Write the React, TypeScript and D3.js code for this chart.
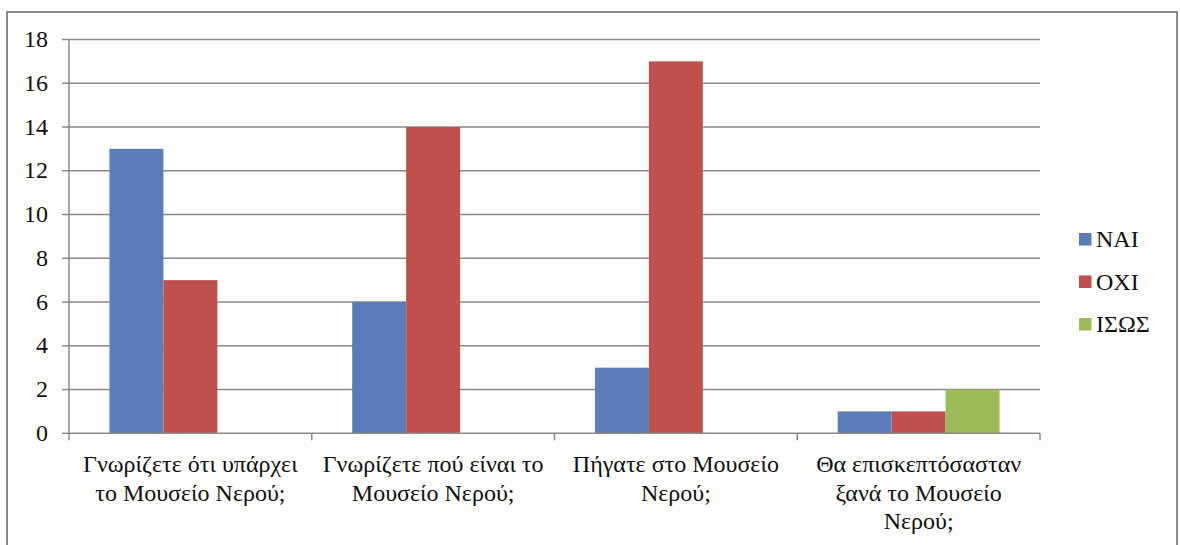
import React from "react";
import * as d3 from "d3";

const categories: string[][] = [
  ["Γνωρίζετε ότι υπάρχει", "το Μουσείο Νερού;"],
  ["Γνωρίζετε πού είναι το", "Μουσείο Νερού;"],
  ["Πήγατε στο Μουσείο", "Νερού;"],
  ["Θα επισκεπτόσασταν", "ξανά το Μουσείο", "Νερού;"],
];
const seriesNames = ["ΝΑΙ", "ΟΧΙ", "ΙΣΩΣ"];
const seriesColors = ["#5A7CB8", "#C0504D", "#9BBB59"];
const naiValues = [13, 6, 3, 1];
const oxiValues = [7, 14, 17, 1];
const isosValues = [0, 0, 0, 2];
const yTicks = [0, 2, 4, 6, 8, 10, 12, 14, 16, 18];

const series = [naiValues, oxiValues, isosValues];

export default function App() {
  const W = 1180;
  const H = 545;
  const left = 69;
  const right = 1040;
  const top = 39.5;
  const bottom = 433.3;
  const fam = "Liberation Serif";
  const ts = { fontFamily: `"${fam}"`, fontSize: "24px" };

  const x = d3.scaleBand<number>().domain(d3.range(categories.length)).range([left, right]).paddingInner(0).paddingOuter(0);
  const y = d3.scaleLinear().domain([0, 18]).range([bottom, top]);
  const bw = x.bandwidth();
  const inner = d3.scaleBand<number>().domain(d3.range(seriesNames.length)).range([0, bw]).paddingInner(0).paddingOuter(0.75);
  const gray = "#8c8a86";

  return (
    <svg width={W} height={H} style={{ position: "absolute", left: 0, top: 0 }} fontFamily={fam}>
      <rect x={0} y={0} width={W} height={H} fill="#ffffff" />
      <rect x={7} y={12} width={1170} height={560} fill="#fdfdfb" stroke={gray} strokeWidth={2} />
      {yTicks.map((t) => (
        <g key={t}>
          {t > 0 && <line x1={left} x2={right} y1={y(t)} y2={y(t)} stroke={gray} strokeWidth={1.5} />}
          <line x1={62} x2={left} y1={y(t)} y2={y(t)} stroke={gray} strokeWidth={1.5} />
          <text x={48} y={y(t) + 7.5} textAnchor="end" fill="#111" style={ts}>{t}</text>
        </g>
      ))}
      {series.map((vals, si) =>
        vals.map((v, ci) =>
          v > 0 ? (
            <rect key={`${si}-${ci}`} x={(x(ci) as number) + (inner(si) as number)} y={y(v)} width={inner.bandwidth()} height={y(0) - y(v)} fill={seriesColors[si]} />
          ) : null
        )
      )}
      <line x1={left} x2={left} y1={top} y2={bottom} stroke={gray} strokeWidth={1.5} />
      <line x1={left} x2={right} y1={bottom} y2={bottom} stroke={gray} strokeWidth={1.5} />
      {d3.range(categories.length + 1).map((i) => {
        const xx = left + i * bw;
        return <line key={i} x1={xx} x2={xx} y1={bottom} y2={bottom + 7} stroke={gray} strokeWidth={1.5} />;
      })}
      {categories.map((lines, ci) =>
        lines.map((l, li) => (
          <text key={`${ci}-${li}`} x={(x(ci) as number) + bw / 2} y={472 + li * 28.7} textAnchor="middle" fill="#111" style={ts}>{l}</text>
        ))
      )}
      {seriesNames.map((n, i) => (
        <g key={n}>
          <rect x={1079} y={233 + i * 42.5} width={12.5} height={12.5} fill={seriesColors[i]} />
          <text x={1096} y={247 + i * 42.5} fill="#111" style={ts}>{n}</text>
        </g>
      ))}
    </svg>
  );
}
